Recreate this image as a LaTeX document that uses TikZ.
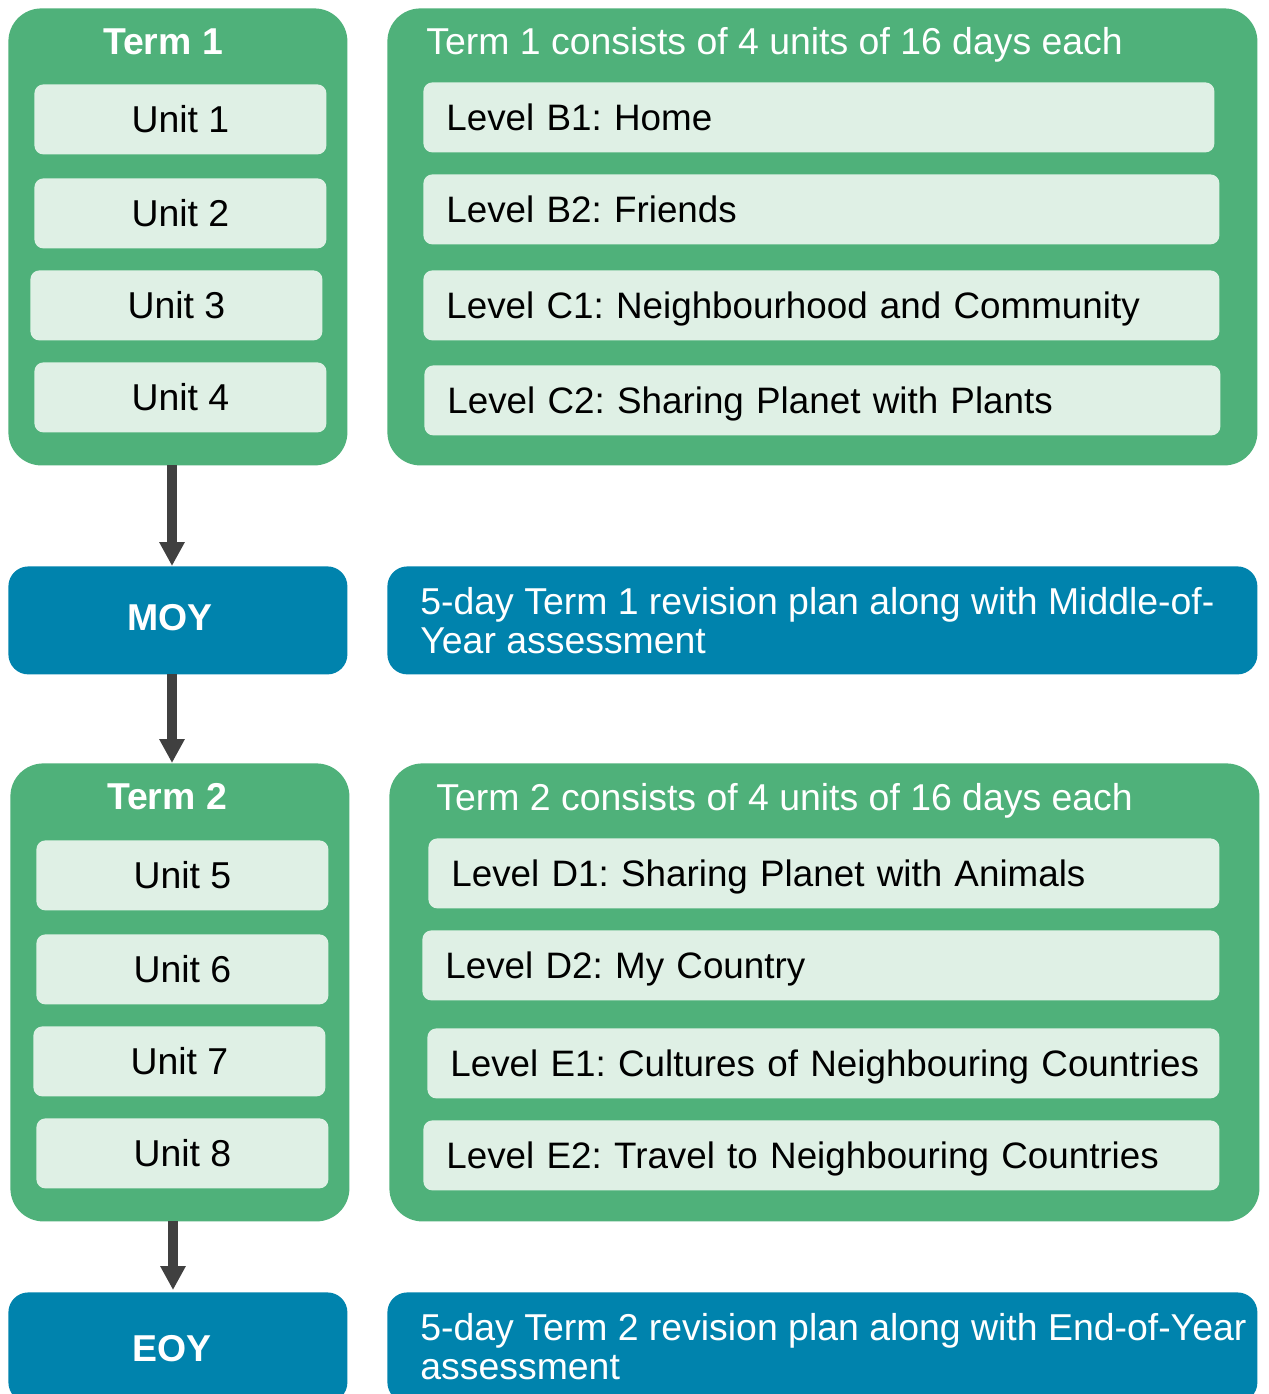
\documentclass[tikz,border=0pt]{standalone}
\usepackage{fontspec}
\setmainfont{Liberation Sans}
\usetikzlibrary{arrows.meta}
\definecolor{grn}{HTML}{4FB17A}
\definecolor{lgt}{HTML}{DFF0E5}
\definecolor{blu}{HTML}{0083AD}
\definecolor{arr}{HTML}{404040}
\newcommand{\fs}{\fontsize{18.7}{19.6}\selectfont\frenchspacing}
\newcommand{\fsl}{\fontsize{18.4}{19.6}\selectfont\frenchspacing}
\begin{document}
\begin{tikzpicture}[x=0.5pt,y=-0.5pt,
  bigbox/.style={fill=grn, rounded corners=16.5pt, inner sep=0pt, anchor=north west},
  bluebox/.style={fill=blu, rounded corners=10pt, inner sep=0pt, anchor=north west},
  unitbox/.style={fill=lgt, rounded corners=4.5pt, inner sep=0pt, anchor=north west,
    minimum width=146pt, minimum height=35pt, font=\fs, text=black},
  levelbox/.style={fill=lgt, rounded corners=4.5pt, inner xsep=11.5pt, inner ysep=0pt,
    anchor=north west, minimum height=35pt, align=left, font=\fsl, text=black,
    text height=13.3pt, text depth=0pt},
  termtitle/.style={font=\fs\bfseries, text=white, inner sep=0pt},
  righttitle/.style={font=\fs, text=white, inner sep=0pt, anchor=west},
  bluetext/.style={font=\fs, text=white, inner sep=0pt, anchor=west, align=left},
  flow/.style={draw=arr, line width=5pt, -{Triangle[width=12pt,length=12pt]}}]
\useasboundingbox (0,0) rectangle (1269,1394);
\clip (0,0) rectangle (1269,1394);
% ---------- Term 1 ----------
\node[bigbox, minimum width=169.5pt, minimum height=228.5pt] (t1) at (8,8) {};
\node[termtitle] (t1title) at (163,42) {Term 1};
\node[unitbox] (u1) at (34,84) {Unit 1};
\node[unitbox] (u2) at (34,178) {Unit 2};
\node[unitbox] (u3) at (30,270) {Unit 3};
\node[unitbox] (u4) at (34,362) {Unit 4};
\node[bigbox, minimum width=435pt, minimum height=228.5pt] (r1) at (387,8) {};
\node[righttitle] (r1title) at (426,45) {Term 1 consists of 4 units of 16 days each};
\node[levelbox, text width={(791)*0.5pt-23pt}] (b1) at (423,82) {\mbox{Level B1: Home}};
\node[levelbox, text width={(796)*0.5pt-23pt}] (b2) at (423,174) {\mbox{Level B2: Friends}};
\node[levelbox, text width={(796)*0.5pt-23pt}] (c1) at (423,270) {\mbox{Level C1: Neighbourhood and Community}};
\node[levelbox, text width={(796)*0.5pt-23pt}] (c2) at (424,365) {\mbox{Level C2: Sharing Planet with Plants}};
% ---------- MOY ----------
\node[bluebox, minimum width=169.5pt, minimum height=54pt] (moy) at (8,566) {};
\node[termtitle] (moytitle) at (170,618) {MOY};
\node[bluebox, minimum width=435pt, minimum height=54pt] (moyr) at (387,566) {};
\node[bluetext] (moytext) at (420,621) {5-day Term 1 revision plan along with Middle-of-\\Year assessment};
% ---------- Term 2 ----------
\node[bigbox, minimum width=169.5pt, minimum height=229pt] (t2) at (10,763) {};
\node[termtitle] (t2title) at (167,797) {Term 2};
\node[unitbox] (u5) at (36,840) {Unit 5};
\node[unitbox] (u6) at (36,934) {Unit 6};
\node[unitbox] (u7) at (33,1026) {Unit 7};
\node[unitbox] (u8) at (36,1118) {Unit 8};
\node[bigbox, minimum width=435pt, minimum height=229pt] (r2) at (389,763) {};
\node[righttitle] (r2title) at (436,801) {Term 2 consists of 4 units of 16 days each};
\node[levelbox, text width={(791)*0.5pt-23pt}] (d1) at (428,838) {\mbox{Level D1: Sharing Planet with Animals}};
\node[levelbox, text width={(797)*0.5pt-23pt}] (d2) at (422,930) {\mbox{Level D2: My Country}};
\node[levelbox, text width={(792)*0.5pt-23pt}] (e1) at (427,1028) {\mbox{Level E1: Cultures of Neighbouring Countries}};
\node[levelbox, text width={(796)*0.5pt-23pt}] (e2) at (423,1120) {\mbox{Level E2: Travel to Neighbouring Countries}};
% ---------- EOY ----------
\node[bluebox, minimum width=169.5pt, minimum height=55pt] (eoy) at (8,1292) {};
\node[termtitle] (eoytitle) at (172,1349) {EOY};
\node[bluebox, minimum width=435pt, minimum height=55pt] (eoyr) at (387,1292) {};
\node[bluetext] (eoytext) at (420,1347) {5-day Term 2 revision plan along with End-of-Year\\assessment};
% ---------- arrows ----------
\coordinate (a1s) at (172,465); \coordinate (a1e) at (172,566);
\coordinate (a2s) at (172,674); \coordinate (a2e) at (172,763);
\coordinate (a3s) at (173,1221); \coordinate (a3e) at (173,1290);
\draw[flow] (a1s) -- (a1e);
\draw[flow] (a2s) -- (a2e);
\draw[flow] (a3s) -- (a3e);
\end{tikzpicture}
\end{document}
